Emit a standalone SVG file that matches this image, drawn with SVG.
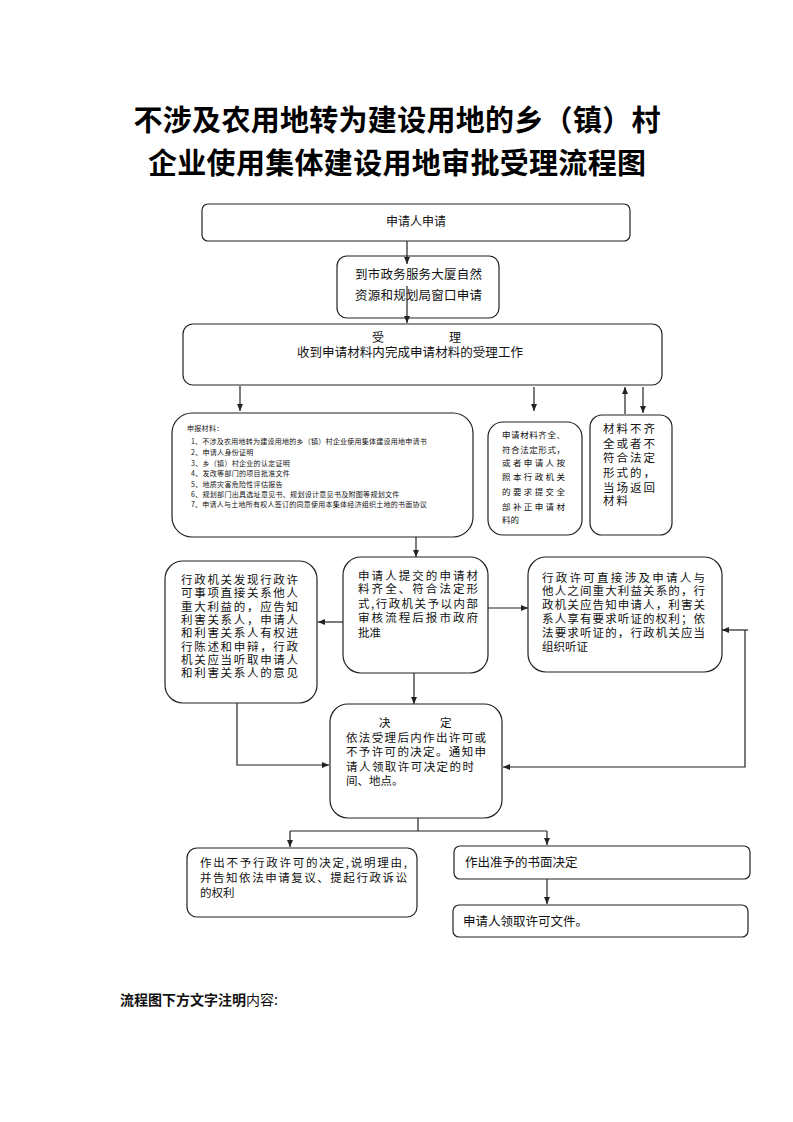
<svg xmlns="http://www.w3.org/2000/svg" width="793" height="1122" viewBox="0 0 793 1122">
<style>
.box{fill:#fff;stroke:#222;stroke-width:1.2}
.t{font-family:"Noto Sans CJK SC","Noto Sans",sans-serif;fill:#111}
.f12{font-size:12px}
.f125{font-size:12.5px}
.m{font-size:11.5px}
.s{font-size:11px}
.f7{font-size:7px;letter-spacing:0.3px}
.f85{font-size:8.5px}
.title{font-family:"Noto Sans CJK SC",sans-serif;font-size:29px;font-weight:bold;fill:#000}
.ln{fill:none;stroke:#222;stroke-width:1.2}
</style>
<defs>
<marker id="ah" markerWidth="7" markerHeight="6" refX="7" refY="3" orient="auto" markerUnits="userSpaceOnUse">
<path d="M0,0 L7,3 L0,6 z" fill="#222"/>
</marker>
</defs>
<rect width="793" height="1122" fill="#fff"/>
<g id="title">
<text class="title" x="397" y="131" text-anchor="middle" textLength="527">不涉及农用地转为建设用地的乡（镇）村</text>
<text class="title" x="397" y="174" text-anchor="middle" textLength="498">企业使用集体建设用地审批受理流程图</text>
</g>
<g id="n1">
<rect class="box" x="202" y="204" width="428" height="37" rx="6"/>
<text class="t f12" x="416" y="225.5" text-anchor="middle">申请人申请</text>
</g>
<g id="n2">
<rect class="box" x="337" y="256" width="162" height="62" rx="10"/>
<text class="t f125"><tspan x="355" y="278.5" textLength="127">到市政务服务大厦自然</tspan><tspan x="355" y="299.5" textLength="127">资源和规划局窗口申请</tspan></text>
</g>
<g id="n3">
<rect class="box" x="183" y="324" width="479" height="61" rx="10"/>
<text class="t f125"><tspan x="372" y="341.5" font-size="12">受</tspan><tspan x="449" y="341.5" font-size="12">理</tspan><tspan x="297" y="357" textLength="226">收到申请材料内完成申请材料的受理工作</tspan></text>
</g>
<g id="n4">
<rect class="box" x="172" y="413" width="301" height="124" rx="20"/>
<text class="t f7"><tspan x="187" y="430.5">申报材料：</tspan><tspan x="191" y="443.5" textLength="236">1、不涉及农用地转为建设用地的乡（镇）村企业使用集体建设用地申请书</tspan><tspan x="191" y="454.5">2、申请人身份证明</tspan><tspan x="191" y="465.5">3、乡（镇）村企业的认定证明</tspan><tspan x="191" y="476">4、发改等部门的项目批准文件</tspan><tspan x="191" y="486.5">5、地质灾害危险性评估报告</tspan><tspan x="191" y="496.5">6、规划部门出具选址意见书、规划设计意见书及附图等规划文件</tspan><tspan x="191" y="507" textLength="236">7、申请人与土地所有权人签订的同意使用本集体经济组织土地的书面协议</tspan></text>
</g>
<g id="n5">
<rect class="box" x="488" y="422" width="94" height="113" rx="15"/>
<text class="t f85"><tspan x="502" y="438" textLength="63">申请材料齐全、</tspan><tspan x="502" y="453" textLength="63">符合法定形式，</tspan><tspan x="502" y="466" textLength="63">或者申请人按</tspan><tspan x="502" y="480" textLength="63">照本行政机关</tspan><tspan x="502" y="495" textLength="63">的要求提交全</tspan><tspan x="502" y="510" textLength="63">部补正申请材</tspan><tspan x="502" y="523">料的</tspan></text>
</g>
<g id="n6">
<rect class="box" x="590" y="415" width="82" height="120" rx="12"/>
<text class="t m"><tspan x="603" y="432.5" textLength="52">材料不齐</tspan><tspan x="603" y="447.5" textLength="52">全或者不</tspan><tspan x="603" y="461.5" textLength="52">符合法定</tspan><tspan x="603" y="476.5" textLength="52">形式的，</tspan><tspan x="603" y="491.5" textLength="52">当场返回</tspan><tspan x="603" y="505" textLength="25">材料</tspan></text>
</g>
<g id="n7">
<rect class="box" x="165" y="561" width="152" height="142" rx="18"/>
<text class="t m"><tspan x="181" y="584" textLength="117">行政机关发现行政许</tspan><tspan x="181" y="597.3" textLength="117">可事项直接关系他人</tspan><tspan x="181" y="610.6" textLength="117">重大利益的，应告知</tspan><tspan x="181" y="623.9" textLength="117">利害关系人，申请人</tspan><tspan x="181" y="637.2" textLength="117">和利害关系人有权进</tspan><tspan x="181" y="650.5" textLength="117">行陈述和申辩，行政</tspan><tspan x="181" y="663.8" textLength="117">机关应当听取申请人</tspan><tspan x="181" y="677.1" textLength="117">和利害关系人的意见</tspan></text>
</g>
<g id="n8">
<rect class="box" x="343" y="557" width="145" height="116" rx="18"/>
<text class="t m"><tspan x="358" y="579.5" textLength="120">申请人提交的申请材</tspan><tspan x="358" y="593" textLength="120">料齐全、符合法定形</tspan><tspan x="358" y="607.5" textLength="120">式,行政机关予以内部</tspan><tspan x="358" y="621.5" textLength="120">审核流程后报市政府</tspan><tspan x="358" y="636.5">批准</tspan></text>
</g>
<g id="n9">
<rect class="box" x="528" y="557" width="194" height="115" rx="18"/>
<text class="t m"><tspan x="542" y="581.5" textLength="163">行政许可直接涉及申请人与</tspan><tspan x="542" y="595.3" textLength="163">他人之间重大利益关系的，行</tspan><tspan x="542" y="609" textLength="163">政机关应告知申请人，利害关</tspan><tspan x="542" y="622.7" textLength="163">系人享有要求听证的权利；依</tspan><tspan x="542" y="636.5" textLength="163">法要求听证的，行政机关应当</tspan><tspan x="542" y="650.5">组织听证</tspan></text>
</g>
<g id="n10">
<rect class="box" x="330" y="704" width="172" height="114" rx="18"/>
<text class="t m"><tspan x="379" y="726.5">决</tspan><tspan x="440" y="726.5">定</tspan><tspan x="346" y="741.5" textLength="140">依法受理后内作出许可或</tspan><tspan x="346" y="756" textLength="140">不予许可的决定。通知申</tspan><tspan x="346" y="770.5" textLength="128">请人领取许可决定的时</tspan><tspan x="346" y="784.5">间、地点。</tspan></text>
</g>
<g id="n11">
<rect class="box" x="187" y="848" width="230" height="69" rx="10"/>
<text class="t m"><tspan x="200" y="866.5" textLength="207">作出不予行政许可的决定,说明理由,</tspan><tspan x="200" y="881.5" textLength="207">并告知依法申请复议、提起行政诉讼</tspan><tspan x="200" y="897">的权利</tspan></text>
</g>
<g id="n12">
<rect class="box" x="454" y="846" width="296" height="33" rx="6"/>
<text class="t f125" x="465" y="866.5">作出准予的书面决定</text>
</g>
<g id="n13">
<rect class="box" x="453" y="905" width="295" height="32" rx="6"/>
<text class="t f125" x="463" y="925.5">申请人领取许可文件。</text>
</g>
<g id="note">
<text class="t" x="120" y="1005" font-size="14" font-weight="bold">流程图下方文字注明<tspan font-weight="normal">内容:</tspan></text>
</g>
<g id="connectors">
<path class="ln" d="M407,241 L407,264" marker-end="url(#ah)"/>
<path class="ln" d="M407,286 L407,323" marker-end="url(#ah)"/>
<path class="ln" d="M240,386 L240,411" marker-end="url(#ah)"/>
<path class="ln" d="M534,387 L534,411" marker-end="url(#ah)"/>
<path class="ln" d="M625,414 L625,387" marker-end="url(#ah)"/>
<path class="ln" d="M643,387 L643,413" marker-end="url(#ah)"/>
<path class="ln" d="M416,537 L416,557" marker-end="url(#ah)"/>
<path class="ln" d="M343,622 L318,622" marker-end="url(#ah)"/>
<path class="ln" d="M488,608 L528,608" marker-end="url(#ah)"/>
<path class="ln" d="M748,630 L722,630" marker-end="url(#ah)"/>
<path class="ln" d="M745,630 L745,767 L503,767" marker-end="url(#ah)"/>
<path class="ln" d="M237,703 L237,765 L329,765" marker-end="url(#ah)"/>
<path class="ln" d="M414,673 L414,704" marker-end="url(#ah)"/>
<path class="ln" d="M418,818 L418,831 M290,831 L547,831"/>
<path class="ln" d="M290,831 L290,847" marker-end="url(#ah)"/>
<path class="ln" d="M547,831 L547,845" marker-end="url(#ah)"/>
<path class="ln" d="M547,879 L547,904" marker-end="url(#ah)"/>
</g>
</svg>
